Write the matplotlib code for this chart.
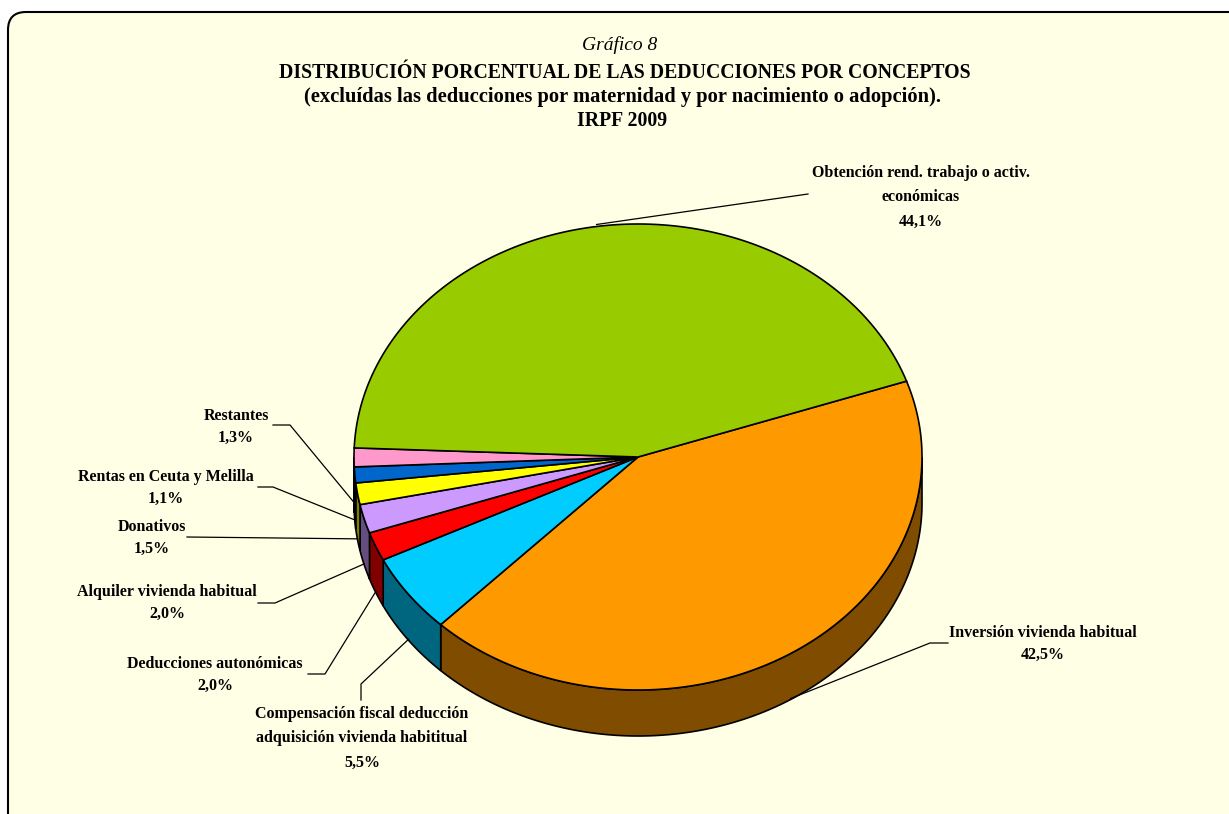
import numpy as np
import matplotlib.pyplot as plt
from matplotlib.patches import Polygon, FancyBboxPatch

plt.rcParams['font.family'] = ['Liberation Serif', 'DejaVu Serif']

# data, in clockwise order starting at the green/orange boundary
conceptos = ['Inversión vivienda habitual',
             'Compensación fiscal deducción\nadquisición vivienda habititual',
             'Deducciones autonómicas',
             'Alquiler vivienda habitual',
             'Donativos',
             'Rentas en Ceuta y Melilla',
             'Restantes',
             'Obtención rend. trabajo o activ.\neconómicas']
porcentajes = [42.5, 5.5, 2.0, 2.0, 1.5, 1.1, 1.3, 44.1]
colores = ['#FF9900', '#00CCFF', '#FF0000', '#CC99FF',
           '#FFFF00', '#0066CC', '#FF99CC', '#99CC00']

# pie geometry (pixels)
cx, cy = 638, 457
rx, ry = 284, 233
depth = 46
start = 19.0

# label layout: text centre, and leader points after the anchor
label_xy = [(1043, 644), (362, 738), (215, 675), (167, 603),
            (152, 538), (166, 488), (236, 427), (921, 197)]
leader_pts = [[(930, 643), (948, 643)],
              [(361, 684), (361, 700)],
              [(325, 674), (308, 674)],
              [(275, 603), (258, 603)],
              [(187, 537)],
              [(273, 487), (258, 487)],
              [(290, 425), (273, 425)],
              [(808, 194)]]


def arc(t1, t2, dy=0, n=200):
    t = np.radians(np.linspace(t1, t2, n))
    return np.column_stack([cx + rx * np.cos(t), cy - ry * np.sin(t) + dy])


def darker(c):
    r, g, b = [int(c[i:i + 2], 16) / 255 for i in (1, 3, 5)]
    return (r * 0.5, g * 0.5, b * 0.5)


fig = plt.figure(figsize=(12.29, 8.14), dpi=100)
ax = fig.add_axes([0, 0, 1, 1])
ax.set_xlim(0, 1229)
ax.set_ylim(814, 0)
ax.axis('off')

frame = FancyBboxPatch((8, 12), 1260, 840,
                       boxstyle='round,pad=0,rounding_size=18',
                       fc='#FFFFE5', ec='black', lw=1.5, zorder=0)
ax.add_patch(frame)

edges = start - 3.6 * np.concatenate([[0], np.cumsum(porcentajes)])

# side walls (only front half is visible)
for i, col in enumerate(colores):
    t1, t2 = edges[i], edges[i + 1]
    a, b = min(t1, 0), max(t2, -180)
    if a > b:
        top = arc(a, b)
        bot = arc(b, a, depth)
        ax.add_patch(Polygon(np.vstack([top, bot]), closed=True,
                             fc=darker(col), ec='black', lw=1.2, zorder=2))

# top faces
for i, col in enumerate(colores):
    pts = np.vstack([[cx, cy], arc(edges[i], edges[i + 1])])
    ax.add_patch(Polygon(pts, closed=True, fc=col, ec='black',
                         lw=1.2, zorder=3))

# labels and leader lines
for i, name in enumerate(conceptos):
    mid = np.radians((edges[i] + edges[i + 1]) / 2)
    axp = cx + rx * np.cos(mid)
    ayp = cy - ry * np.sin(mid)
    if np.sin(mid) < 0 or abs(np.sin(mid)) < 0.02:
        ayp += depth - 1
    else:
        ayp -= 2
    pts = [(axp, ayp)] + leader_pts[i]
    xs, ys = zip(*pts)
    ax.plot(xs, ys, color='black', lw=0.9, zorder=4)
    txt = name + '\n' + f'{porcentajes[i]:.1f}%'.replace('.', ',')
    ls = 1.7 if '\n' in name else 1.55
    ax.text(label_xy[i][0], label_xy[i][1], txt, ha='center', va='center',
            fontsize=11.5, fontweight='bold', linespacing=ls, zorder=5)

# titles
ax.text(620, 45, 'Gráfico 8', ha='center', va='center',
        fontsize=14, style='italic')
ax.text(625, 73, 'DISTRIBUCIÓN PORCENTUAL DE LAS DEDUCCIONES POR CONCEPTOS',
        ha='center', va='center', fontsize=14.2, fontweight='bold')
ax.text(622, 97, '(excluídas las deducciones por maternidad y por nacimiento o adopción).',
        ha='center', va='center', fontsize=14.8, fontweight='bold')
ax.text(622, 121, 'IRPF 2009', ha='center', va='center',
        fontsize=14.2, fontweight='bold')

fig.savefig('out.png', dpi=100, facecolor='white')
